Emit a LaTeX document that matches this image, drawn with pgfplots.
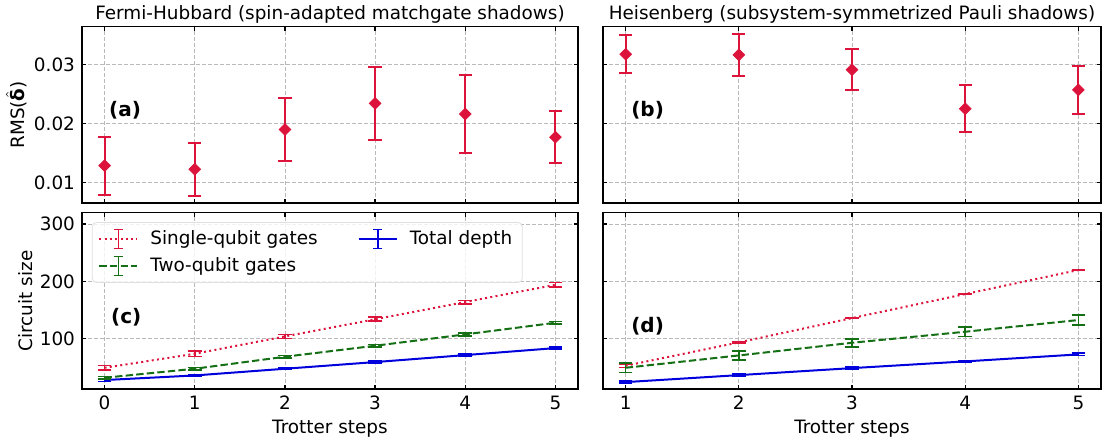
\documentclass[border=0pt]{standalone}
\usepackage{pgfplots}
\pgfplotsset{compat=1.18}
\usepackage{pgfplotstable}
\usepackage{amsmath}
\usepackage{fontspec}
\setmainfont{DejaVu Sans}
\definecolor{cr}{HTML}{DC143C}
\definecolor{gr}{HTML}{157015}
\definecolor{bl}{HTML}{0000DD}

\pgfplotstableread{
x y e
0 0.0129 0.0049
1 0.0123 0.0045
2 0.0190 0.0053
3 0.0234 0.0061
4 0.0216 0.0066
5 0.0177 0.0044
}\tA
\pgfplotstableread{
x y e
1 0.0317 0.0032
2 0.0316 0.0035
3 0.0291 0.0035
4 0.0225 0.0040
5 0.0257 0.0041
}\tB
\pgfplotstableread{
x s se t te d de
0 49.4 4.0 32.0 2.5 28.0 2.5
1 73.8 4.5 47.7 2.5 36.0 1.5
2 104.0 3.5 68.6 2.0 47.7 1.5
3 134.0 3.5 87.8 2.5 59.3 1.5
4 164.0 3.0 107.6 2.5 71.5 1.5
5 194.0 4.0 127.9 2.5 83.7 1.5
}\tC
\pgfplotstableread{
x s se t te d de
1 52.9 3.0 49.4 8.0 24.4 2.0
2 93.6 1.0 70.9 8.0 36.6 1.5
3 136.0 1.0 93.0 7.0 48.8 1.5
4 177.9 1.0 112.2 8.0 60.5 1.5
5 219.8 1.0 132.6 9.0 72.7 2.0
}\tD

\tikzset{lab/.style={font=\fontsize{10}{12}\selectfont\bfseries, anchor=west, inner sep=0pt}}
\pgfplotsset{
  every axis title/.style={at={(0.5,1)}, anchor=base, yshift=3.4pt,
    inner sep=0pt, font=\fontsize{9.2}{11}\selectfont},
  base/.style={
    scale only axis,
    font=\fontsize{9.2}{11}\selectfont,
    tick label style={font=\fontsize{9.2}{11}\selectfont},
    label style={font=\fontsize{9.2}{11}\selectfont},
    ylabel shift=-3.5pt, xlabel shift=-2pt,
    /pgf/number format/assume math mode=true,
    scaled y ticks=false,
    axis line style={line width=0.7pt},
    tick align=inside, tick pos=both,
    xticklabel pos=lower, yticklabel pos=left,
    major tick length=2pt,
    tick style={black, line width=0.6pt},
    grid=major,
    major grid style={gray!55, dash pattern=on 2pt off 1pt, line width=0.4pt},
    minor tick num=0,
  },
  ptop/.style={base, height=88.2pt, ymin=0.00657, ymax=0.03635,
    ytick={0.01,0.02,0.03}},
  pbot/.style={base, height=88.2pt, ymin=12.2, ymax=319.7,
    ytick={100,200,300}},
  diam/.style={only marks, color=cr, mark=diamond*, mark size=2.9pt,
    mark options={xscale=1.333, solid},
    error bars/y dir=both, error bars/y explicit,
    error bars/error bar style={line width=1pt, cr},
    error bars/error mark options={line width=1pt, mark size=3.3pt, cr, rotate=90}},
  ln/.style={no marks, line width=1pt,
    error bars/y dir=both, error bars/y explicit,
    error bars/error bar style={line width=0.8pt, solid},
    error bars/error mark options={line width=0.8pt, mark size=3.4pt, solid, rotate=90}},
  erleg/.style={legend image code/.code={
      \draw[##1] (0pt,0pt) -- (19pt,0pt);
      \draw[##1,solid,line width=0.8pt] (9.5pt,-4.7pt) -- (9.5pt,4.7pt)
        (7.2pt,-4.7pt) -- (11.8pt,-4.7pt) (7.2pt,4.7pt) -- (11.8pt,4.7pt);
      \path (23pt,0pt);}},
}

\begin{document}
\begin{tikzpicture}
\useasboundingbox (0,0) rectangle (552pt,-220.5pt);

% (a)
\begin{axis}[ptop, at={(41pt,-13.35pt)}, anchor=north west, width=248pt,
  xmin=-0.25, xmax=5.25, xtick={0,...,5}, xticklabels={},
  yticklabels={0.01,0.02,0.03},
  ylabel={RMS($\hat{\text{\bfseries δ}}$)},
  title={Fermi-Hubbard (spin-adapted matchgate shadows)}]
\addplot[diam] table[x=x,y=y,y error=e] {\tA};
\node[lab] at (rel axis cs:0.054,0.527) {(a)};
\end{axis}

% (b)
\begin{axis}[ptop, at={(301.5pt,-13.35pt)}, anchor=north west, width=249pt,
  xmin=0.8, xmax=5.2, xtick={1,...,5}, xticklabels={}, yticklabels={},
  title={Heisenberg (subsystem-symmetrized Pauli shadows)}]
\addplot[diam] table[x=x,y=y,y error=e] {\tB};
\node[lab] at (rel axis cs:0.056,0.527) {(b)};
\end{axis}

% (c)
\begin{axis}[pbot, at={(41pt,-106.35pt)}, anchor=north west, width=248pt,
  xmin=-0.25, xmax=5.25, xtick={0,...,5},
  xlabel={Trotter steps}, ylabel={Circuit size},
  legend columns=2, legend cell align=left,
  legend style={at={(0.02,0.947)}, anchor=north west, draw=gray!25,
    fill=white, fill opacity=0.8, text opacity=1, rounded corners=2pt,
    font=\fontsize{9.2}{11}\selectfont,
    /tikz/every even column/.append style={column sep=18pt},
    row sep=1pt}]
\addplot[ln, erleg, cr, dash pattern=on 1pt off 1.65pt] table[x=x,y=s,y error=se] {\tC};
\addlegendentry{Single-qubit gates}
\addplot[ln, erleg, bl] table[x=x,y=d,y error=de] {\tC};
\addlegendentry{Total depth}
\addplot[ln, erleg, gr, dash pattern=on 3.7pt off 1.6pt] table[x=x,y=t,y error=te] {\tC};
\addlegendentry{Two-qubit gates}
\node[lab] at (rel axis cs:0.058,0.41) {(c)};
\end{axis}

% (d)
\begin{axis}[pbot, at={(301.5pt,-106.35pt)}, anchor=north west, width=249pt,
  xmin=0.8, xmax=5.2, xtick={1,...,5}, yticklabels={},
  xlabel={Trotter steps}]
\addplot[ln, cr, dash pattern=on 1pt off 1.65pt] table[x=x,y=s,y error=se] {\tD};
\addplot[ln, gr, dash pattern=on 3.7pt off 1.6pt] table[x=x,y=t,y error=te] {\tD};
\addplot[ln, bl] table[x=x,y=d,y error=de] {\tD};
\node[lab] at (rel axis cs:0.056,0.357) {(d)};
\end{axis}
\end{tikzpicture}
\end{document}
